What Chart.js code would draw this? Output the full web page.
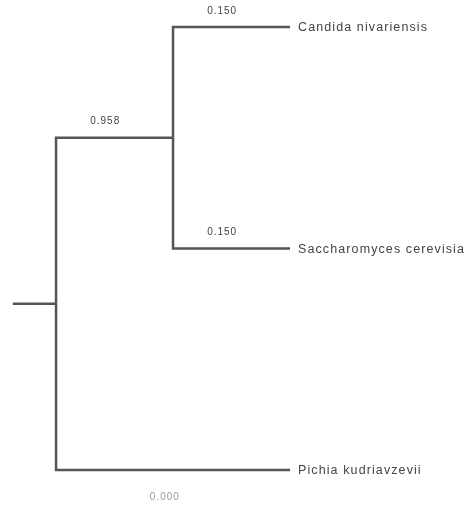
<!DOCTYPE html>
<html>
<head>
<meta charset="utf-8">
<script src="https://cdn.jsdelivr.net/npm/chart.js@4.4.1/dist/chart.umd.min.js"></script>
<style>
  html, body { margin: 0; padding: 0; background: #fff; }
  #wrap { width: 475px; height: 508px; }
</style>
</head>
<body>
<div id="wrap"><canvas id="chart"></canvas></div>
<script>
// tree nodes: depth along x, row along y
const nodeNames = ['root', 'inner', 'Candida nivariensis', 'Saccharomyces cerevisia', 'Pichia kudriavzevii'];
const nodeDepth = [0, 1, 2, 2, 2];
const nodeRow = [1.25, 0.5, 0, 1, 2];
const nodeParent = [-1, 0, 1, 1, 0];
const branchLabels = ['', '0.958', '0.150', '0.150', ''];
const rootStub = -0.37;
const scaleLabel = '0.000';
const scaleLabelPos = [0.93, 2.125];

// one elbow line per branch
const datasets = [];
datasets.push({
  data: [{ x: rootStub, y: nodeRow[0] }, { x: nodeDepth[0], y: nodeRow[0] }]
});
nodeParent.forEach((p, i) => {
  if (p < 0) return;
  datasets.push({
    data: [
      { x: nodeDepth[p], y: nodeRow[p] },
      { x: nodeDepth[p], y: nodeRow[i] },
      { x: nodeDepth[i], y: nodeRow[i] }
    ]
  });
});
datasets.forEach(ds => {
  ds.borderColor = '#555';
  ds.borderWidth = 2.5;
  ds.pointRadius = 0;
  ds.tension = 0;
  ds.fill = false;
  ds.borderCapStyle = 'butt';
  ds.borderJoinStyle = 'miter';
});

const treeLabels = {
  id: 'treeLabels',
  afterDatasetsDraw(chart) {
    const ctx = chart.ctx;
    const xs = chart.scales.x, ys = chart.scales.y;
    ctx.save();
    ctx.textBaseline = 'middle';

    // tip names
    ctx.fillStyle = '#444';
    ctx.font = '12.5px "Liberation Sans", Arial, sans-serif';
    ctx.letterSpacing = '1.1px';
    ctx.textAlign = 'left';
    nodeNames.forEach((name, i) => {
      if (nodeParent.includes(i)) return;
      ctx.fillText(name, xs.getPixelForValue(nodeDepth[i]) + 8, ys.getPixelForValue(nodeRow[i]) + 1);
    });

    // branch labels
    ctx.font = '10px "Liberation Sans", Arial, sans-serif';
    ctx.letterSpacing = '1px';
    ctx.textAlign = 'center';
    branchLabels.forEach((lab, i) => {
      if (!lab) return;
      const p = nodeParent[i];
      const mid = (nodeDepth[p] + nodeDepth[i]) / 2 - 0.08;
      ctx.fillText(lab, xs.getPixelForValue(mid), ys.getPixelForValue(nodeRow[i]) - 16);
    });

    ctx.fillStyle = '#9a9a9a';
    ctx.fillText(scaleLabel, xs.getPixelForValue(scaleLabelPos[0]), ys.getPixelForValue(scaleLabelPos[1]));
    ctx.restore();
  }
};

new Chart(document.getElementById('chart'), {
  type: 'line',
  data: { datasets },
  options: {
    responsive: true,
    maintainAspectRatio: false,
    animation: false,
    layout: { padding: 0 },
    plugins: { legend: { display: false }, tooltip: { enabled: false } },
    scales: {
      x: { type: 'linear', min: -0.479, max: 3.581, display: false },
      y: { type: 'linear', min: -0.122, max: 2.172, reverse: true, display: false }
    }
  },
  plugins: [treeLabels]
});
</script>
</body>
</html>
